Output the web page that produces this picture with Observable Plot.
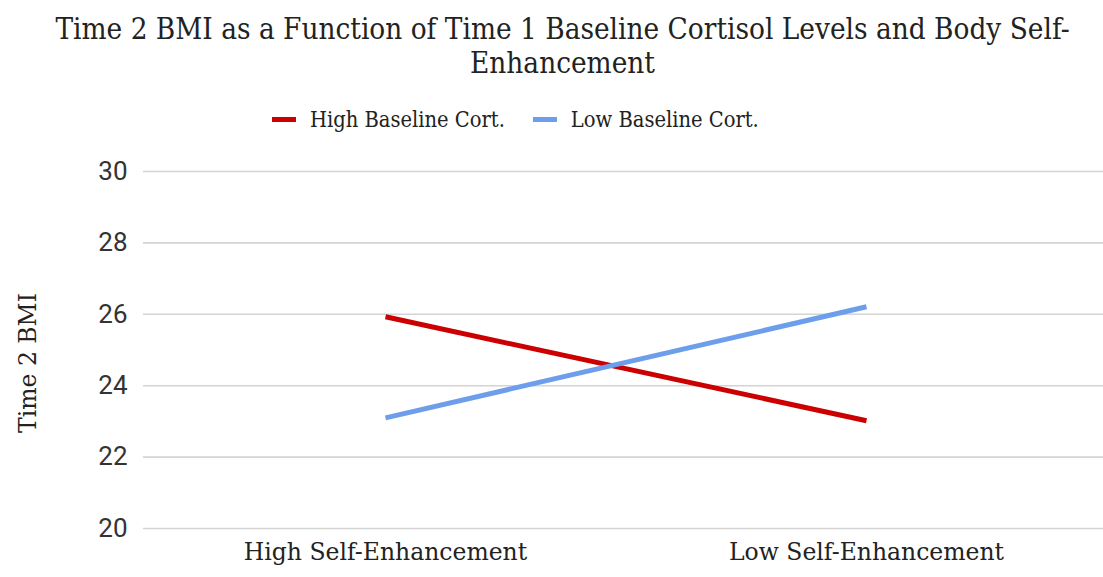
<!DOCTYPE html>
<html>
<head>
<meta charset="utf-8">
<script src="https://cdn.jsdelivr.net/npm/d3@7"></script>
<script src="https://cdn.jsdelivr.net/npm/@observablehq/plot@0.6"></script>
<style>
  html, body { margin: 0; padding: 0; background: #fff; }
  #wrap { width: 1103px; height: 577px; position: relative; overflow: hidden; }
  #title { position: absolute; top: 12px; left: 22px; width: 1081px; text-align: center;
    font-family: "DejaVu Serif", serif; font-stretch: condensed; font-size: 29.4px; line-height: 34px; color: #222; }
  #legend { position: absolute; top: 107px; left: 272px; display: flex;
    font-family: "DejaVu Serif", serif; font-stretch: condensed; font-size: 21.7px; line-height: 25px; color: #222; gap: 28px; }
  .item { display: flex; align-items: center; gap: 14px; }
  .sw { width: 24px; height: 5px; display: inline-block; }
  #chart { position: absolute; top: 140px; left: 0; }
</style>
</head>
<body>
<div id="wrap">
  <div id="title"></div>
  <div id="legend"></div>
  <div id="chart"></div>
</div>
<script>
const titleLines = ["Time 2 BMI as a Function of Time 1 Baseline Cortisol Levels and Body Self-", "Enhancement"];
const categories = ["High Self-Enhancement", "Low Self-Enhancement"];
const seriesNames = ["High Baseline Cort.", "Low Baseline Cort."];
const seriesColors = ["#cc0000", "#6d9eeb"];
const highCort = [25.93, 23.02];
const lowCort = [23.10, 26.21];
const yTicks = [20, 22, 24, 26, 28, 30];
const yLabel = "Time 2 BMI";

document.getElementById("title").innerHTML = titleLines.join("<br>");
const leg = document.getElementById("legend");
seriesNames.forEach((n, i) => {
  const it = document.createElement("div");
  it.className = "item";
  it.innerHTML = `<span class="sw" style="background:${seriesColors[i]}"></span><span>${n}</span>`;
  leg.appendChild(it);
});

const data = [];
categories.forEach((c, i) => {
  data.push({cat: c, value: highCort[i], series: seriesNames[0]});
  data.push({cat: c, value: lowCort[i], series: seriesNames[1]});
});

const chart = Plot.plot({
  width: 1103,
  height: 437,
  marginLeft: 143,
  marginRight: 0,
  marginTop: 31,
  marginBottom: 49,
  style: {fontFamily: "DejaVu Serif, serif", background: "transparent"},
  x: {type: "point", domain: categories, range: [385, 866], padding: 0, label: null},
  y: {domain: [20, 30], ticks: yTicks, label: null},
  color: {domain: seriesNames, range: seriesColors},
  marks: [
    Plot.gridY(yTicks, {stroke: "#d4d4d4", strokeOpacity: 1, strokeWidth: 1.6}),
    Plot.axisY(yTicks, {tickSize: 0, tickPadding: 16, fontSize: 26, fontFamily: "Roboto, Liberation Sans, sans-serif", fill: "#333", label: null}),
    Plot.axisX({tickSize: 0, tickPadding: 15, fontSize: 23.5, fill: "#222", label: null}),
    Plot.text([yLabel], {frameAnchor: "left", text: d => d, rotate: -90, textAnchor: "middle", dx: -115, dy: 13, fontSize: 23.5, fill: "#222", fontFamily: "DejaVu Serif, serif"}),
    Plot.line(data, {x: "cat", y: "value", z: "series", stroke: "series", strokeWidth: 5, strokeLinecap: "butt"})
  ]
});
document.getElementById("chart").appendChild(chart);
</script>
</body>
</html>
